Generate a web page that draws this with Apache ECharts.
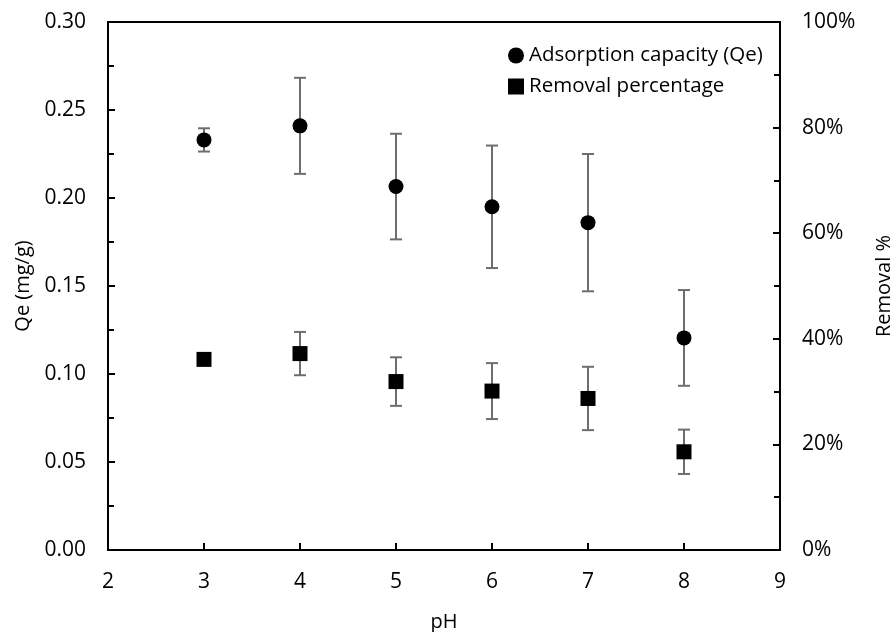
<!DOCTYPE html>
<html>
<head>
<meta charset="utf-8">
<style>
  html, body { margin: 0; padding: 0; background: #fff; }
  #chart { width: 893px; height: 632px; }
</style>
<script src="https://cdn.jsdelivr.net/npm/echarts@6/dist/echarts.min.js"></script>
</head>
<body>
<div id="chart"></div>
<script>
// pH values tested
const phValues = [3, 4, 5, 6, 7, 8];
// Adsorption capacity Qe (mg/g) and its standard deviation
const qeValues = [0.233, 0.241, 0.2065, 0.195, 0.186, 0.1205];
const qeErrors = [0.0066, 0.0273, 0.030, 0.0348, 0.039, 0.0272];
// Removal percentage (fraction of 1) and its standard deviation
const removalValues = [0.361, 0.372, 0.319, 0.301, 0.287, 0.186];
const removalErrors = [0.008, 0.041, 0.046, 0.053, 0.060, 0.042];

const FONT = 'Open Sans';
const BAR_COLOR = '#6e6e6e';

function errorSeries(values, errors, yAxisIndex) {
  return {
    type: 'custom',
    yAxisIndex: yAxisIndex,
    z: 1,
    silent: true,
    data: phValues.map((x, i) => [x, values[i] - errors[i], values[i] + errors[i]]),
    renderItem: function (params, api) {
      const lo = api.coord([api.value(0), api.value(1)]);
      const hi = api.coord([api.value(0), api.value(2)]);
      const half = 6;
      const style = { stroke: BAR_COLOR, lineWidth: 2, fill: null };
      return {
        type: 'group',
        children: [
          { type: 'line', shape: { x1: lo[0], y1: lo[1], x2: hi[0], y2: hi[1] }, style: style },
          { type: 'line', shape: { x1: lo[0] - half, y1: lo[1], x2: lo[0] + half, y2: lo[1] }, style: style },
          { type: 'line', shape: { x1: hi[0] - half, y1: hi[1], x2: hi[0] + half, y2: hi[1] }, style: style }
        ]
      };
    }
  };
}

const axisLine = { show: true, lineStyle: { color: '#000', width: 2 } };
const labelStyle = { color: '#000', fontFamily: FONT, fontSize: 21 };
const nameStyle = { color: '#000', fontFamily: FONT, fontSize: 20 };

const chart = echarts.init(document.getElementById('chart'), null, { renderer: 'canvas' });
chart.setOption({
  animation: false,
  backgroundColor: '#fff',
  grid: {
    left: 108, right: 113, top: 22, bottom: 82,
    outerBoundsMode: 'none',
    containLabel: false,
    show: true, borderColor: '#000', borderWidth: 2, backgroundColor: 'transparent'
  },
  legend: {
    orient: 'vertical',
    left: 503, top: 40,
    itemWidth: 16, itemHeight: 16, itemGap: 10,
    textStyle: { color: '#000', fontFamily: FONT, fontSize: 20.5 },
    data: [
      { name: 'Adsorption capacity (Qe)', icon: 'circle', itemStyle: { color: '#000', opacity: 1 } },
      { name: 'Removal percentage', icon: 'rect', itemStyle: { color: '#000', opacity: 1 } }
    ]
  },
  xAxis: {
    type: 'value', min: 2, max: 9, interval: 1,
    name: 'pH', nameLocation: 'middle', nameGap: 62,
    nameTextStyle: nameStyle,
    axisLine: axisLine,
    axisTick: { show: true, inside: true, length: 7, lineStyle: { color: '#000', width: 2 } },
    axisLabel: Object.assign({ margin: 22 }, labelStyle),
    splitLine: { show: false }
  },
  yAxis: [
    {
      type: 'value', min: 0, max: 0.3, interval: 0.05,
      name: 'Qe (mg/g)', nameLocation: 'middle', nameGap: 74,
      nameTextStyle: nameStyle,
      axisLine: axisLine,
      axisTick: { show: true, inside: true, length: 7, lineStyle: { color: '#000', width: 2 } },
      minorTick: { show: true, splitNumber: 2, length: 6, lineStyle: { color: '#000', width: 2 } },
      axisLabel: Object.assign({ margin: 22, formatter: v => v.toFixed(2) }, labelStyle),
      splitLine: { show: false }
    },
    {
      type: 'value', min: 0, max: 1, interval: 0.2, position: 'right',
      name: 'Removal %', nameLocation: 'middle', nameGap: 94, nameRotate: 90,
      nameTextStyle: nameStyle,
      axisLine: axisLine,
      axisTick: { show: true, inside: true, length: 7, lineStyle: { color: '#000', width: 2 } },
      minorTick: { show: true, splitNumber: 2, length: 6, lineStyle: { color: '#000', width: 2 } },
      axisLabel: Object.assign({ margin: 22, formatter: v => Math.round(v * 100) + '%' }, labelStyle),
      splitLine: { show: false }
    }
  ],
  series: [
    errorSeries(qeValues, qeErrors, 0),
    errorSeries(removalValues, removalErrors, 1),
    {
      name: 'Adsorption capacity (Qe)',
      type: 'scatter', yAxisIndex: 0, z: 3,
      symbol: 'circle', symbolSize: 15,
      itemStyle: { color: '#000', opacity: 1 },
      data: phValues.map((x, i) => [x, qeValues[i]])
    },
    {
      name: 'Removal percentage',
      type: 'scatter', yAxisIndex: 1, z: 3,
      symbol: 'rect', symbolSize: 15,
      itemStyle: { color: '#000', opacity: 1 },
      data: phValues.map((x, i) => [x, removalValues[i]])
    }
  ]
});
</script>
</body>
</html>
